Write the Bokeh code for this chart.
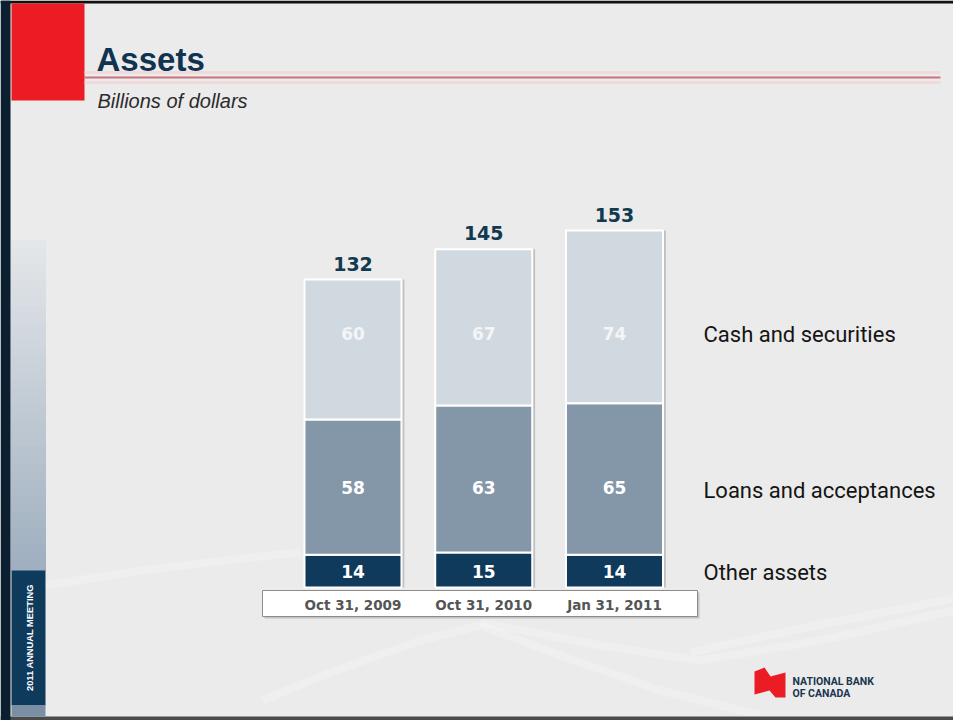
import numpy as np
from bokeh.plotting import figure
from bokeh.models import Range1d
from bokeh.core.properties import value
from bokeh.embed import file_html
from bokeh.resources import INLINE

# ---------------- data ----------------
dates = ["Oct 31, 2009", "Oct 31, 2010", "Jan 31, 2011"]
other_assets = [14, 15, 14]
loans_acceptances = [58, 63, 65]
cash_securities = [60, 67, 74]
totals = [132, 145, 153]
series_names = ["Cash and securities", "Loans and acceptances", "Other assets"]
title_text = "Assets"
subtitle_text = "Billions of dollars"
sidebar_text = "2011 ANNUAL MEETING"
logo_lines = ["NATIONAL BANK", "OF CANADA"]

# ---------------- styles ----------------
BG = "#ebebeb"
NAVY = "#0e3a5c"
C_OTHER = "#0f3a5c"
C_LOANS = "#8497a9"
C_CASH = "#d1d9e0"
RED = "#ec1c24"
NUM_FONT = value("DejaVu Sans")
NARROW = value("Roboto")

idx = list(range(len(dates)))
loans_top = [o + l for o, l in zip(other_assets, loans_acceptances)]
cash_top = [b + c for b, c in zip(loans_top, cash_securities)]

W, H = 953, 720
p = figure(width=W, height=H, output_backend="svg", toolbar_location=None,
           x_range=Range1d(-2.696, 4.593), y_range=Range1d(-57.0, 251.6),
           min_border=0, x_axis_location=None, y_axis_location=None,
           background_fill_color=BG, border_fill_color=BG, outline_line_color=None)
p.grid.visible = False
# pixel coordinate system matching the slide
p.extra_x_ranges = {"px": Range1d(0, 953)}
p.extra_y_ranges = {"px": Range1d(720, 0)}
PX = dict(x_range_name="px", y_range_name="px")

# ---------------- background swooshes ----------------
swooshes = [
    ([262, 330, 420, 480, 560, 660, 760], [700, 672, 640, 625, 655, 690, 715]),
    ([480, 600, 700, 820, 953], [622, 645, 660, 640, 610]),
    ([45, 140, 260, 300], [585, 570, 556, 552]),
    ([690, 800, 953], [652, 628, 598]),
]
for xs, ys in swooshes:
    p.line(xs, ys, line_color="white", line_width=8, line_alpha=0.22, **PX)

# ---------------- frame / left sidebar ----------------
p.quad(left=[0], right=[953], top=[0], bottom=[3], fill_color="#111111", line_color=None, **PX)
p.quad(left=[0], right=[953], top=[716], bottom=[720], fill_color="#4a4a4a", line_color=None, **PX)
p.quad(left=[0], right=[10], top=[0], bottom=[720], fill_color="#0b1f30", line_color=None, **PX)
n_b = 40
y0, y1 = 240, 570
edges = np.linspace(y0, y1, n_b + 1)
c0 = np.array([228, 231, 234])
c1 = np.array([160, 176, 192])
cols = []
for k in range(n_b):
    t = k / (n_b - 1)
    c = (c0 + (c1 - c0) * t).astype(int)
    cols.append("#%02x%02x%02x" % tuple(c))
p.quad(left=[11] * n_b, right=[45] * n_b, top=list(edges[:-1]),
       bottom=[min(e + 2, y1) for e in edges[1:]],
       fill_color=cols, line_color=cols, line_width=1, **PX)
p.quad(left=[11], right=[45], top=[570], bottom=[705], fill_color=NAVY, line_color=None, **PX)
p.quad(left=[11], right=[45], top=[705], bottom=[716], fill_color="#7a8fa3", line_color=None, **PX)
p.text(x=[29], y=[637], text=[sidebar_text], angle=np.pi / 2, text_align="center",
       text_baseline="middle", text_font=value("Liberation Sans"), text_font_style="bold",
       text_font_size="9.3px", text_color="white", **PX)

# ---------------- header ----------------
p.quad(left=[11], right=[84], top=[3], bottom=[100], fill_color=RED, line_color=None, **PX)
p.line([84, 940], [72, 72], line_color="#f3d3d6", line_width=3, line_alpha=0.7, **PX)
p.line([84, 940], [82, 82], line_color="#f3d3d6", line_width=3, line_alpha=0.7, **PX)
p.line([84, 940], [77, 77], line_color="#c8757c", line_width=2, **PX)
p.text(x=[96], y=[59], text=[title_text], text_baseline="alphabetic",
       text_font=value("Liberation Sans"), text_font_style="bold",
       text_font_size="33px", text_color="#0f3350", **PX)
p.text(x=[97], y=[100], text=[subtitle_text], text_baseline="alphabetic",
       text_font=value("Liberation Sans"), text_font_style="italic",
       text_font_size="20px", text_color="#2b2b2b", **PX)

# ---------------- bars ----------------
BW = 0.742
p.vbar(x=[i + 0.022 for i in idx], width=BW, bottom=0, top=cash_top,
       fill_color="#8f8f8f", fill_alpha=0.45, line_color=None)
p.vbar(x=idx, width=BW, bottom=0, top=other_assets, fill_color=C_OTHER,
       line_color="white", line_width=2)
p.vbar(x=idx, width=BW, bottom=other_assets, top=loans_top, fill_color=C_LOANS,
       line_color="white", line_width=2)
p.vbar(x=idx, width=BW, bottom=loans_top, top=cash_top, fill_color=C_CASH,
       line_color="white", line_width=2)

# date box
p.quad(left=[264], right=[699], top=[592], bottom=[618], fill_color="#9a9a9a",
       fill_alpha=0.5, line_color=None, **PX)
p.quad(left=[262], right=[697], top=[590], bottom=[616], fill_color="white",
       line_color="#8c8c8c", line_width=1, **PX)
p.text(x=idx, y=[604] * 3, text=dates, text_align="center", text_baseline="middle",
       text_font=NUM_FONT, text_font_style="bold", text_font_size="13.5px",
       text_color="#555555", y_range_name="px")

# segment labels
label_rows = [(cash_securities, 333, "#f3f5f7"), (loans_acceptances, 487, "white"),
              (other_assets, 571, "white")]
for vals, yrow, col in label_rows:
    p.text(x=idx, y=[yrow] * 3, text=[str(v) for v in vals], text_align="center",
           text_baseline="middle", text_font=NUM_FONT, text_font_style="bold",
           text_font_size="17px", text_color=col, y_range_name="px")

# totals
p.text(x=idx, y=totals, text=[str(t) for t in totals], y_offset=-16,
       text_align="center", text_baseline="middle", text_font=NUM_FONT,
       text_font_style="bold", text_font_size="19px", text_color="#123a4f")

# series labels (at right)
p.text(x=[703] * 3, y=[334, 490, 572], text=series_names, text_align="left",
       text_baseline="middle", text_font=NARROW, text_font_size="22px",
       text_color="#141414", **PX)

# ---------------- logo ----------------
p.patch([754, 764, 770, 785, 785, 775, 769, 754], [671, 667, 676, 672, 697, 697, 690, 694],
        fill_color=RED, line_color=None, **PX)
p.text(x=[792, 792], y=[681, 693], text=logo_lines, text_baseline="alphabetic",
       text_font=value("Roboto"), text_font_style="bold",
       text_font_size="10.5px", text_color="#1a3550", **PX)

open("out.html", "w").write(file_html(p, INLINE))
